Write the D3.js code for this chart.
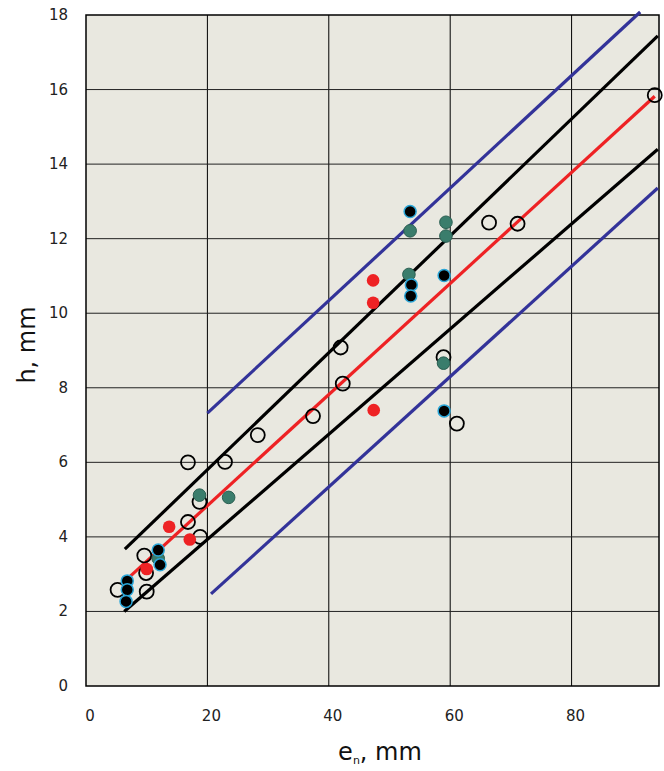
<!DOCTYPE html>
<html><head><meta charset="utf-8">
<script src="https://cdn.jsdelivr.net/npm/d3@7"></script>
<style>body{margin:0;background:#fff}svg{display:block}</style>
</head><body>
<script>
// Data
const xTicks = [0, 20, 40, 60, 80];
const yTicks = [0, 2, 4, 6, 8, 10, 12, 14, 16, 18];
const openPts = [[93.7,15.85],[71.1,12.4],[66.4,12.43],[41.95,9.08],[42.3,8.11],[58.9,8.82],[61.1,7.04],
  [37.4,7.24],[28.3,6.73],[16.8,6.0],[22.9,6.01],[18.7,4.94],[16.8,4.4],[18.8,4.0],[9.6,3.5],[9.9,3.03],[10.0,2.53],[5.2,2.58]];
const redPts = [[47.3,10.88],[47.3,10.28],[47.4,7.4],[13.7,4.27],[17.1,3.93],[10.0,3.14]];
const tealPts = [[11.9,3.42],[18.7,5.12],[23.5,5.06],[53.4,12.21],[59.3,12.44],[59.3,12.07],[53.2,11.04],[58.9,8.66]];
const blackPts = [[53.4,12.73],[53.6,10.76],[53.5,10.46],[59.0,11.01],[59.0,7.38],[11.9,3.65],[12.2,3.25],[6.8,2.82],[6.8,2.58],[6.6,2.27]];
const redLine = [[7.0,2.9],[93.7,15.82]];
const upperBlack = [[6.4,3.67],[94.2,17.44]];
const lowerBlack = [[6.3,2.0],[94.2,14.4]];
const upperBlue = [[20.0,7.32],[91.3,18.08]];
const lowerBlue = [[20.6,2.47],[94.2,13.36]];

const W = 664, H = 771;
const m = {left: 86, top: 15, right: 659, bottom: 686};
const svg = d3.select("body").append("svg").attr("width", W).attr("height", H);
const x = d3.scaleLinear().domain([0, 94.4]).range([m.left, m.right]);
const y = d3.scaleLinear().domain([0, 18]).range([m.bottom, m.top]);
const font = "'DejaVu Sans', Verdana, sans-serif";

svg.append("rect").attr("x", m.left).attr("y", m.top).attr("width", m.right - m.left).attr("height", m.bottom - m.top)
  .attr("fill", "#e9e8e0");

// grid
svg.append("g").selectAll("line").data(xTicks.filter(d => d > 0)).join("line")
  .attr("x1", d => x(d)).attr("x2", d => x(d)).attr("y1", m.top).attr("y2", m.bottom)
  .attr("stroke", "#000").attr("stroke-width", 1);
svg.append("g").selectAll("line").data(yTicks.filter(d => d > 0 && d < 18)).join("line")
  .attr("x1", m.left).attr("x2", m.right).attr("y1", d => y(d)).attr("y2", d => y(d))
  .attr("stroke", "#222").attr("stroke-width", 1);

svg.append("rect").attr("x", m.left).attr("y", m.top).attr("width", m.right - m.left).attr("height", m.bottom - m.top)
  .attr("fill", "none").attr("stroke", "#000").attr("stroke-width", 1.5);

// tick labels
svg.append("g").selectAll("text").data(xTicks).join("text")
  .attr("x", d => x(d) + 4).attr("y", 721).attr("text-anchor", "middle")
  .attr("font-family", font).attr("font-size", 15).attr("fill", "#222").text(d => d);
svg.append("g").selectAll("text").data(yTicks).join("text")
  .attr("x", 68).attr("y", d => y(d) + 5).attr("text-anchor", "end")
  .attr("font-family", font).attr("font-size", 15).attr("fill", "#222").text(d => d);

// axis titles
const xt = svg.append("text").attr("x", 380).attr("y", 760).attr("text-anchor", "middle")
  .attr("font-family", font).attr("font-size", 24).attr("fill", "#111");
xt.append("tspan").text("e");
xt.append("tspan").attr("font-size", 11).attr("dy", 4).text("n");
xt.append("tspan").attr("dy", -4).text(", mm");
svg.append("text").attr("transform", "translate(35,345) rotate(-90)").attr("text-anchor", "middle")
  .attr("font-family", font).attr("font-size", 24).attr("fill", "#111").text("h, mm");

// lines
const lg = svg.append("g");
const drawLine = (pts, color) => lg.append("line")
  .attr("x1", x(pts[0][0])).attr("y1", y(pts[0][1])).attr("x2", x(pts[1][0])).attr("y2", y(pts[1][1]))
  .attr("stroke", color).attr("stroke-width", 3.2);
drawLine(upperBlue, "#333399");
drawLine(lowerBlue, "#333399");
drawLine(upperBlack, "#000");
drawLine(lowerBlack, "#000");
drawLine(redLine, "#ee2224");

// points
svg.append("g").selectAll("circle").data(openPts).join("circle")
  .attr("cx", d => x(d[0])).attr("cy", d => y(d[1])).attr("r", 7)
  .attr("fill", "none").attr("stroke", "#000").attr("stroke-width", 1.8);
svg.append("g").selectAll("circle").data(tealPts).join("circle")
  .attr("cx", d => x(d[0])).attr("cy", d => y(d[1])).attr("r", 6.3)
  .attr("fill", "#3a7d6c").attr("stroke", "#2b5f52").attr("stroke-width", 1);
svg.append("g").selectAll("circle").data(redPts).join("circle")
  .attr("cx", d => x(d[0])).attr("cy", d => y(d[1])).attr("r", 6.3)
  .attr("fill", "#ee2224");
svg.append("g").selectAll("circle").data(blackPts).join("circle")
  .attr("cx", d => x(d[0])).attr("cy", d => y(d[1])).attr("r", 6)
  .attr("fill", "#000").attr("stroke", "#2aa6d8").attr("stroke-width", 1.5);
</script>
</body></html>
